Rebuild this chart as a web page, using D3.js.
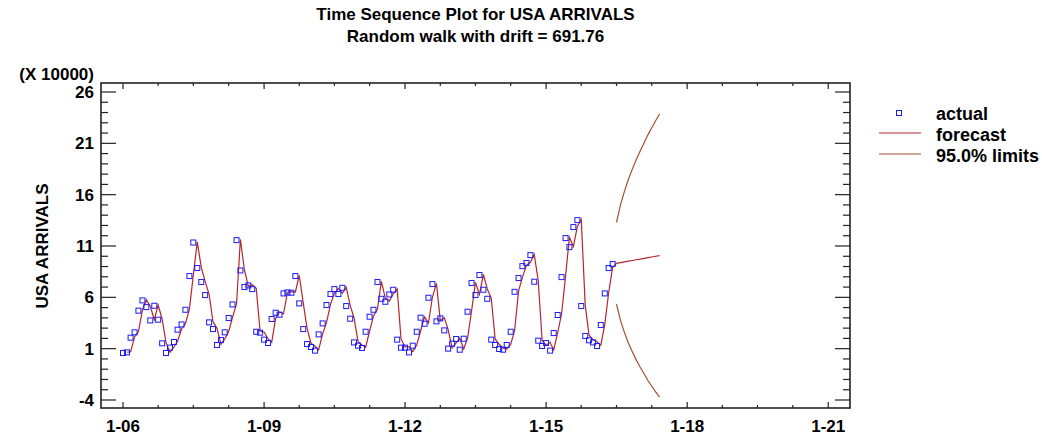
<!DOCTYPE html>
<html>
<head>
<meta charset="utf-8">
<script src="https://cdn.jsdelivr.net/npm/d3@7"></script>
<style>
  body { margin: 0; background: #fff; }
  text { font-family: "Liberation Sans", Arial, sans-serif; font-weight: bold; fill: #000; }
</style>
</head>
<body>
<svg id="chart" width="1042" height="437"></svg>
<script>
// monthly USA arrivals (x 10000), Jan 2006 .. Jun 2016
var actual = [
  0.58, 0.64, 2.07, 2.59, 4.70, 5.70, 5.05, 3.75, 5.18, 3.82, 1.52, 0.58,
  1.10, 1.65, 2.85, 3.36, 4.79, 8.07, 11.34, 8.85, 7.49, 6.22, 3.56, 2.91,
  1.36, 1.85, 2.59, 3.99, 5.31, 11.57, 8.62, 7.00, 7.16, 6.80, 2.65, 2.56,
  1.88, 1.55, 3.89, 4.50, 4.31, 6.38, 6.48, 6.45, 8.07, 5.41, 2.91, 1.45,
  1.16, 0.81, 2.39, 3.46, 5.25, 6.32, 6.80, 6.32, 6.93, 5.15, 3.92, 1.61,
  1.29, 1.07, 2.65, 4.11, 4.79, 7.49, 5.86, 5.57, 6.28, 6.74, 1.88, 1.10,
  1.10, 0.64, 1.29, 2.65, 4.02, 3.43, 5.96, 7.29, 3.66, 3.95, 2.78, 1.00,
  1.49, 1.94, 0.90, 1.97, 4.60, 7.39, 6.22, 8.17, 6.74, 5.86, 1.88, 1.36,
  0.97, 0.90, 1.36, 2.65, 6.54, 7.88, 9.04, 9.34, 10.11, 7.52, 1.78, 1.26,
  1.55, 0.81, 2.52, 4.28, 7.97, 11.77, 10.89, 12.84, 13.52, 5.15, 2.24, 1.81,
  1.61, 1.26, 3.30, 6.38, 8.85, 9.24
];
// one-step-ahead forecasts, Feb 2006 .. Jun 2016
var fitted = [
  0.65, 0.71, 2.14, 2.66, 4.77, 5.77, 5.12, 3.82, 5.25, 3.89, 1.59, 0.65,
  1.17, 1.72, 2.92, 3.43, 4.86, 8.14, 11.41, 8.92, 7.56, 6.29, 3.63, 2.98,
  1.43, 1.92, 2.66, 4.06, 5.38, 11.64, 8.69, 7.07, 7.23, 6.87, 2.72, 2.63,
  1.95, 1.62, 3.96, 4.57, 4.38, 6.45, 6.55, 6.52, 8.14, 5.48, 2.98, 1.52,
  1.23, 0.88, 2.46, 3.53, 5.32, 6.39, 6.87, 6.39, 7.00, 5.22, 3.99, 1.68,
  1.36, 1.14, 2.72, 4.18, 4.86, 7.56, 5.93, 5.64, 6.35, 6.81, 1.95, 1.17,
  1.17, 0.71, 1.36, 2.72, 4.09, 3.50, 6.03, 7.36, 3.73, 4.02, 2.85, 1.07,
  1.56, 2.01, 0.97, 2.04, 4.67, 7.46, 6.29, 8.24, 6.81, 5.93, 1.95, 1.43,
  1.04, 0.97, 1.43, 2.72, 6.61, 7.95, 9.11, 9.41, 10.18, 7.59, 1.85, 1.33,
  1.62, 0.88, 2.59, 4.35, 8.04, 11.84, 10.96, 12.91, 13.59, 5.22, 2.31, 1.88,
  1.68, 1.33, 3.37, 6.45, 8.92
];
// forecasts Jul 2016 .. Jun 2017 with 95% limits
var forecast = [9.31, 9.38, 9.45, 9.52, 9.59, 9.66, 9.72, 9.79, 9.86, 9.93, 10.00, 10.07];
var upper = [13.29, 15.01, 16.34, 17.48, 18.49, 19.41, 20.25, 21.05, 21.80, 22.52, 23.20, 23.86];
var lower = [5.33, 3.75, 2.56, 1.56, 0.69, -0.09, -0.81, -1.47, -2.08, -2.66, -3.20, -3.72];

var yTicks = [-4, 1, 6, 11, 16, 21, 26];
var xTickLabels = ["1-06", "1-09", "1-12", "1-15", "1-18", "1-21"];
var legendItems = ["actual", "forecast", "95.0% limits"];

var svg = d3.select("#chart");
var plotL = 101, plotR = 850, plotT = 83, plotB = 408;

var x = d3.scaleTime()
  .domain([new Date(2005, 6, 14), new Date(2021, 5, 19)])
  .range([plotL, plotR]);
var y = d3.scaleLinear().domain([-4, 26]).range([400, 92]);

function month(i) { return new Date(2006, i, 1); }

// frame
svg.append("rect")
  .attr("x", plotL).attr("y", plotT)
  .attr("width", plotR - plotL).attr("height", plotB - plotT)
  .attr("fill", "none").attr("stroke", "#222").attr("stroke-width", 1.6);

// x ticks every 9 months, bottom and top
var xTicks = d3.range(0, 181, 9).map(month);
xTicks.forEach(function(d, i) {
  var len = (i % 4 == 0) ? 6 : 3;
  svg.append("line").attr("x1", x(d)).attr("x2", x(d))
    .attr("y1", plotB).attr("y2", plotB - len).attr("stroke", "#222").attr("stroke-width", 1.2);
  svg.append("line").attr("x1", x(d)).attr("x2", x(d))
    .attr("y1", plotT).attr("y2", plotT + len).attr("stroke", "#222").attr("stroke-width", 1.2);
});
xTickLabels.forEach(function(t, i) {
  svg.append("text").attr("x", x(month(i * 36))).attr("y", 432)
    .attr("text-anchor", "middle").style("font-size", "17px").text(t);
});

// y ticks, major every 5, minor every 1
d3.range(-4, 27).forEach(function(v) {
  var len = ((v + 4) % 5 == 0) ? 15 : 7;
  svg.append("line").attr("x1", plotL).attr("x2", plotL + len)
    .attr("y1", y(v)).attr("y2", y(v)).attr("stroke", "#222").attr("stroke-width", 1.2);
  svg.append("line").attr("x1", plotR).attr("x2", plotR - len)
    .attr("y1", y(v)).attr("y2", y(v)).attr("stroke", "#222").attr("stroke-width", 1.2);
});
yTicks.forEach(function(v) {
  svg.append("text").attr("x", 94).attr("y", y(v) + 6)
    .attr("text-anchor", "end").style("font-size", "17px").text(v);
});
svg.append("text").attr("x", 94).attr("y", 80).attr("text-anchor", "end")
  .style("font-size", "17px").text("(X 10000)");
svg.append("text").attr("transform", "translate(48," + y(11) + ") rotate(-90)")
  .attr("text-anchor", "middle").style("font-size", "17px").text("USA ARRIVALS");

// titles
svg.append("text").attr("x", (plotL + plotR) / 2).attr("y", 20).attr("text-anchor", "middle")
  .style("font-size", "17px").text("Time Sequence Plot for USA ARRIVALS");
svg.append("text").attr("x", (plotL + plotR) / 2).attr("y", 42).attr("text-anchor", "middle")
  .style("font-size", "17px").text("Random walk with drift = 691.76");

// lines
var line = d3.line().x(function(d) { return x(d[0]); }).y(function(d) { return y(d[1]); });
var fitPts = fitted.map(function(v, i) { return [month(i + 1), v]; })
  .concat(forecast.map(function(v, i) { return [month(actual.length + i), v]; }));
svg.append("path").attr("d", line(fitPts))
  .attr("fill", "none").attr("stroke", "#b3282d").attr("stroke-width", 1.2);

[upper, lower].forEach(function(arr) {
  svg.append("path")
    .attr("d", line(arr.map(function(v, i) { return [month(actual.length + i), v]; })))
    .attr("fill", "none").attr("stroke", "#a0522d").attr("stroke-width", 1.2);
});

// actual points
svg.selectAll("rect.pt").data(actual).enter().append("rect")
  .attr("class", "pt")
  .attr("x", function(d, i) { return x(month(i)) - 2.5; })
  .attr("y", function(d) { return y(d) - 2.5; })
  .attr("width", 5).attr("height", 5)
  .attr("fill", "none").attr("stroke", "#1a1aff").attr("stroke-width", 1);

// legend
var lg = svg.append("g");
lg.append("rect").attr("x", 896.5).attr("y", 110.5).attr("width", 5).attr("height", 5)
  .attr("fill", "none").attr("stroke", "#1a1aff").attr("stroke-width", 1);
lg.append("line").attr("x1", 879).attr("x2", 921).attr("y1", 133).attr("y2", 133)
  .attr("stroke", "#b3282d").attr("stroke-width", 1.2);
lg.append("line").attr("x1", 879).attr("x2", 921).attr("y1", 154).attr("y2", 154)
  .attr("stroke", "#a0522d").attr("stroke-width", 1.2);
legendItems.forEach(function(t, i) {
  lg.append("text").attr("x", 936).attr("y", 120 + i * 21)
    .style("font-size", "18px").text(t);
});
</script>
</body>
</html>
